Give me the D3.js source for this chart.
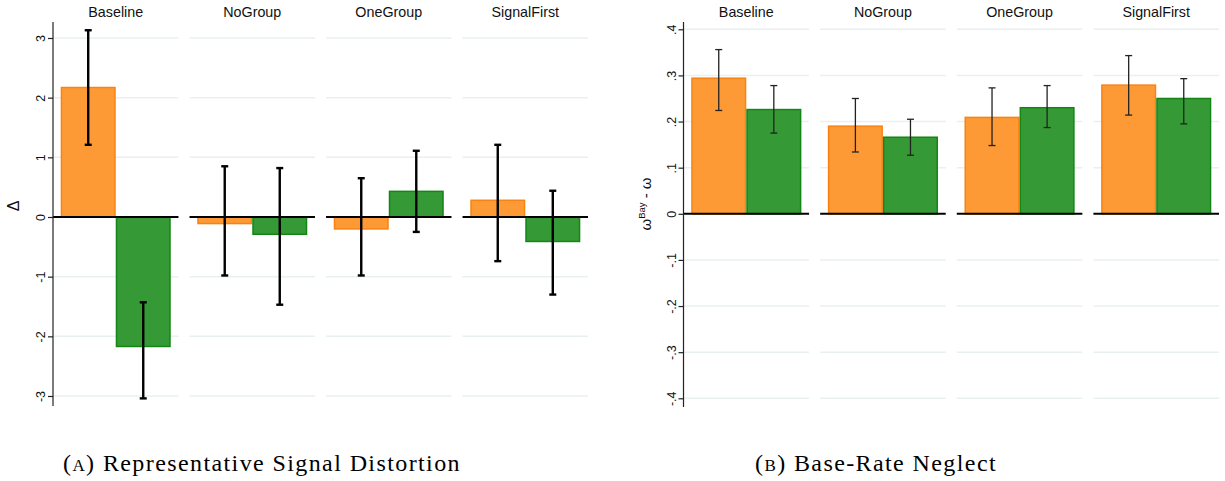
<!DOCTYPE html>
<html>
<head>
<meta charset="utf-8">
<script src="https://cdn.jsdelivr.net/npm/d3@7"></script>
<style>
  html, body { margin: 0; padding: 0; background: #fff; }
  svg { display: block; }
</style>
</head>
<body>
<svg id="chart" width="1225" height="481"></svg>
<script>
// Treatment panels shared by both figures
const categories = ["Baseline", "NoGroup", "OneGroup", "SignalFirst"];
const seriesNames = ["first", "second"];

// Panel A: representative signal distortion (Δ) with 95% CIs
const distMeanFirst  = [2.17, -0.11, -0.20, 0.28];
const distLowFirst   = [1.21, -0.98, -0.98, -0.74];
const distHighFirst  = [3.13, 0.85, 0.65, 1.21];
const distMeanSecond = [-2.17, -0.29, 0.43, -0.41];
const distLowSecond  = [-3.04, -1.47, -0.25, -1.30];
const distHighSecond = [-1.43, 0.82, 1.11, 0.44];
const distTicks = [-3, -2, -1, 0, 1, 2, 3];
const distTickLabels = ["-3", "-2", "-1", "0", "1", "2", "3"];

// Panel B: base-rate neglect (ω^Bay − ω) with 95% CIs
const brnMeanFirst  = [0.294, 0.190, 0.209, 0.279];
const brnLowFirst   = [0.224, 0.134, 0.148, 0.214];
const brnHighFirst  = [0.356, 0.250, 0.273, 0.343];
const brnMeanSecond = [0.226, 0.166, 0.230, 0.250];
const brnLowSecond  = [0.175, 0.127, 0.187, 0.195];
const brnHighSecond = [0.278, 0.205, 0.278, 0.293];
const brnTicks = [-0.4, -0.3, -0.2, -0.1, 0, 0.1, 0.2, 0.3, 0.4];
const brnTickLabels = ["-.4", "-.3", "-.2", "-.1", "0", ".1", ".2", ".3", ".4"];

const captions = [
  { tag: "A", text: "Representative Signal Distortion" },
  { tag: "B", text: "Base-Rate Neglect" }
];

const fills   = { first: "#fe9a36", second: "#359a35" };
const strokes = { first: "#f98312", second: "#158515" };
const sansFont = "'Liberation Sans', Arial, Helvetica, sans-serif";
const serifFont = "'Liberation Serif', 'DejaVu Serif', serif";

const svg = d3.select("#chart");

function buildRows(means, lows, highs) {
  return categories.map((c, i) => ({
    cat: c,
    vals: [
      { s: "first",  v: means[0][i], lo: lows[0][i], hi: highs[0][i] },
      { s: "second", v: means[1][i], lo: lows[1][i], hi: highs[1][i] }
    ]
  }));
}

function drawPanel(cfg) {
  const g = svg.append("g");
  const x = d3.scaleBand().domain(categories)
    .range([cfg.left, cfg.right]).paddingInner(0.081).paddingOuter(0);
  const xs = d3.scaleBand().domain(seriesNames)
    .range([0, x.bandwidth()]).paddingInner(0).paddingOuter(0.14);
  const y = d3.scaleLinear().domain(cfg.domain).range([cfg.bottom, cfg.top]);

  // panel titles
  g.selectAll("text.ptitle").data(categories).join("text")
    .attr("class", "ptitle")
    .attr("x", d => x(d) + x.bandwidth() / 2)
    .attr("y", 17)
    .attr("text-anchor", "middle")
    .attr("font-family", sansFont)
    .attr("font-size", 14.3)
    .attr("fill", "#111")
    .text(d => d);

  // horizontal grid lines inside each panel
  categories.forEach(c => {
    g.selectAll(null).data(cfg.ticks.filter(t => t !== 0)).join("line")
      .attr("x1", x(c)).attr("x2", x(c) + x.bandwidth())
      .attr("y1", d => y(d)).attr("y2", d => y(d))
      .attr("stroke", "#e9f0f0").attr("stroke-width", 1.5);
  });

  const rows = buildRows(cfg.means, cfg.lows, cfg.highs);
  const panels = g.selectAll("g.cat").data(rows).join("g")
    .attr("class", "cat")
    .attr("transform", d => `translate(${x(d.cat)},0)`);

  panels.selectAll("rect").data(d => d.vals).join("rect")
    .attr("x", d => xs(d.s) + 0.75)
    .attr("width", xs.bandwidth() - 1.5)
    .attr("y", d => Math.min(y(d.v), y(0)))
    .attr("height", d => Math.abs(y(d.v) - y(0)))
    .attr("fill", d => fills[d.s])
    .attr("stroke", d => strokes[d.s])
    .attr("stroke-width", 1.5);

  // zero line per panel
  panels.append("line")
    .attr("x1", 0).attr("x2", x.bandwidth())
    .attr("y1", y(0)).attr("y2", y(0))
    .attr("stroke", "#000").attr("stroke-width", 2);

  // confidence intervals
  const eb = panels.selectAll("g.eb").data(d => d.vals).join("g").attr("class", "eb");
  const cx = d => xs(d.s) + xs.bandwidth() / 2;
  eb.append("line")
    .attr("x1", cx).attr("x2", cx)
    .attr("y1", d => y(d.lo)).attr("y2", d => y(d.hi))
    .attr("stroke", cfg.ebColor).attr("stroke-width", cfg.ebWidth);
  ["lo", "hi"].forEach(k => {
    eb.append("line")
      .attr("x1", d => cx(d) - cfg.capHalf).attr("x2", d => cx(d) + cfg.capHalf)
      .attr("y1", d => y(d[k])).attr("y2", d => y(d[k]))
      .attr("stroke", cfg.ebColor).attr("stroke-width", cfg.ebWidth);
  });

  // y axis
  const axis = d3.axisLeft(y).tickValues(cfg.ticks)
    .tickFormat((d, i) => cfg.tickLabels[i]).tickSize(5).tickSizeOuter(0);
  const ag = g.append("g").attr("transform", `translate(${cfg.left},0)`).call(axis);
  ag.select(".domain").attr("d", `M0,${cfg.axisTop}V${cfg.axisBottom}`)
    .attr("stroke", "#222").attr("stroke-width", 1.2);
  ag.selectAll(".tick line").attr("stroke", "#222").attr("stroke-width", 1.2);
  ag.selectAll(".tick text")
    .attr("font-family", sansFont).attr("font-size", 12.5).attr("fill", "#111")
    .attr("x", null).attr("dy", null)
    .attr("text-anchor", "middle")
    .attr("transform", "translate(-11,0) rotate(-90)")
    .attr("dominant-baseline", "middle");

  // y axis title
  const yt = g.append("text")
    .attr("transform", `translate(${cfg.labelX},${cfg.labelY}) rotate(-90)`)
    .attr("text-anchor", "middle")
    .attr("font-family", sansFont).attr("font-size", 15).attr("fill", "#111");
  cfg.label(yt);

  // caption
  const cap = svg.append("text")
    .attr("x", cfg.captionX).attr("y", 471)
    .attr("text-anchor", "middle")
    .attr("font-family", serifFont).attr("font-size", 24)
    .attr("letter-spacing", 1.4).attr("fill", "#000");
  cap.append("tspan").text("(");
  cap.append("tspan").attr("font-size", 17).text(cfg.caption.tag);
  cap.append("tspan").text(") " + cfg.caption.text);
}

drawPanel({
  left: 53, right: 588, top: 38, bottom: 396, domain: [-3, 3],
  axisTop: 22, axisBottom: 406,
  ticks: distTicks, tickLabels: distTickLabels,
  means: [distMeanFirst, distMeanSecond],
  lows: [distLowFirst, distLowSecond],
  highs: [distHighFirst, distHighSecond],
  ebColor: "#000", ebWidth: 2.4, capHalf: 3.5,
  labelX: 19, labelY: 206,
  label: t => t.text("Δ").attr("font-size", 16),
  captionX: 262, caption: captions[0]
});

drawPanel({
  left: 683.5, right: 1219, top: 29.3, bottom: 398.3, domain: [-0.4, 0.4],
  axisTop: 22, axisBottom: 407,
  ticks: brnTicks, tickLabels: brnTickLabels,
  means: [brnMeanFirst, brnMeanSecond],
  lows: [brnLowFirst, brnLowSecond],
  highs: [brnHighFirst, brnHighSecond],
  ebColor: "#222", ebWidth: 1.3, capHalf: 3.5,
  labelX: 651, labelY: 204,
  label: t => {
    t.append("tspan").text("ω");
    t.append("tspan").attr("font-size", 9.5).attr("dy", -6).text("Bay");
    t.append("tspan").attr("dy", 6).text(" - ω");
  },
  captionX: 876, caption: captions[1]
});
</script>
</body>
</html>
